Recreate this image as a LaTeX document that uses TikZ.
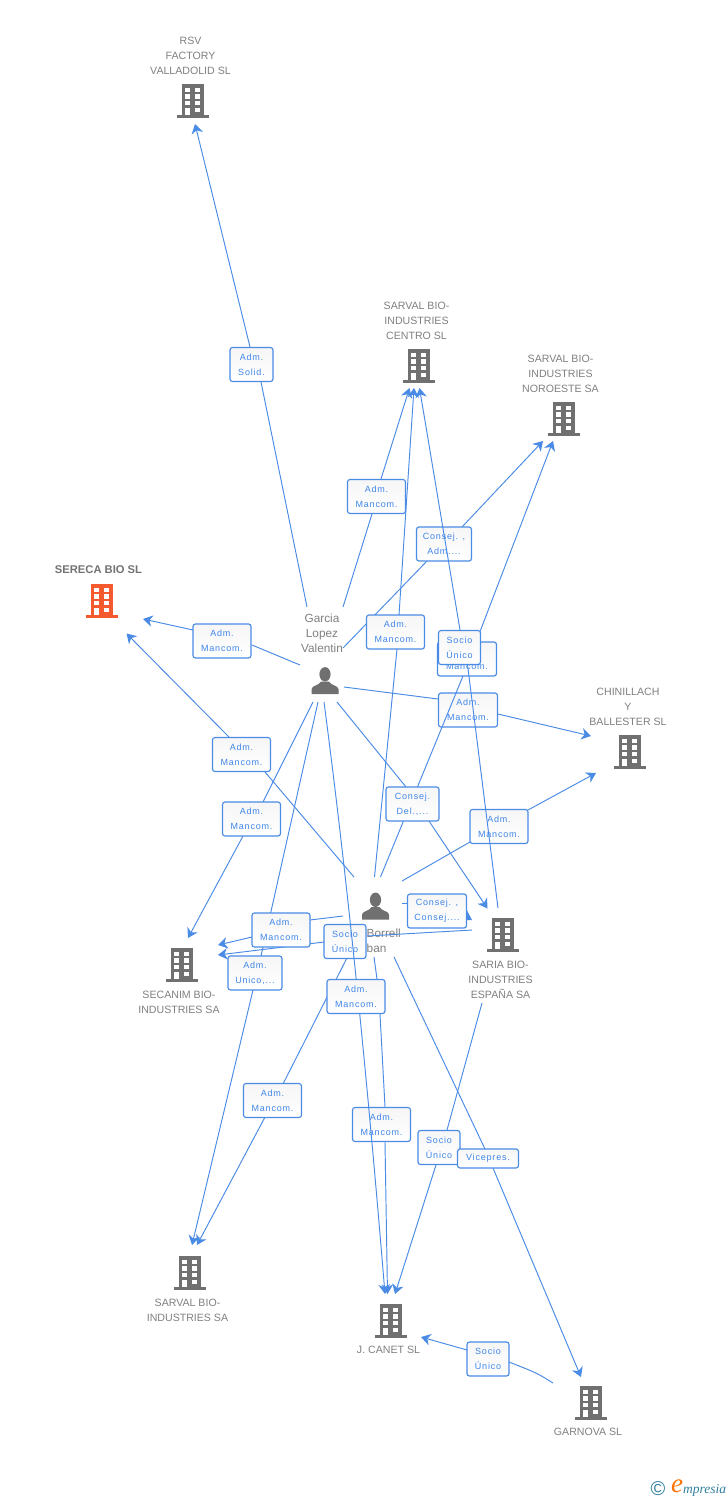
\documentclass[tikz,border=0pt]{standalone}
\usepackage{fontspec}
\setmainfont{Liberation Sans}
\newfontfamily\lblfont[LetterSpace=9]{Liberation Sans}
\newfontfamily\logofont{Liberation Serif}
\usetikzlibrary{arrows.meta}
\definecolor{cblue}{HTML}{4A8BE6}
\definecolor{ctext}{HTML}{3F86E8}
\definecolor{cgray}{HTML}{707070}
\definecolor{ctxt}{HTML}{808080}
\definecolor{corange}{HTML}{F5592E}
\definecolor{cteal}{HTML}{2F7F9F}
\tikzset{
  cline/.style={draw=cblue,line width=0.95pt},
  carrow/.style={draw=cblue,line width=0.95pt,-{Stealth[length=9.5pt,width=11.5pt,inset=3pt]}},
  lbl/.style={draw=cblue,line width=1.15pt,rounded corners=2.5pt,top color=gray!7,bottom color=white,text=ctext,
    font=\lblfont\fontsize{9}{15}\selectfont,align=center,inner sep=0pt,minimum height=34pt,minimum width=#1},
  lbl/.default=58pt,
  co/.style={text=ctxt,font=\fontsize{10.6}{15}\selectfont,align=center,inner sep=0pt},
  pe/.style={text=ctxt,font=\fontsize{11.8}{15}\selectfont,align=center,inner sep=0pt},
  ico/.style={inner sep=0pt,minimum width=32pt,minimum height=34pt},
  pics/bldg/.style={code={
    \fill[#1] (-11,-17) rectangle (11,14.5);
    \fill[#1] (-16,14) rectangle (16,17);
    \foreach \yy in {-13.2,-6.6,0}{
      \fill[white] (-7.6,\yy) rectangle (-2.8,\yy+4.4);
      \fill[white] (2.4,\yy) rectangle (7.2,\yy+4.4);}
    \fill[white] (-7.6,6.6) rectangle (-2.8,14);
    \fill[white] (2.4,6.6) rectangle (7.2,11);
  }},
  pics/persona/.style={code={
    \fill[cgray] (0,-6.2) ellipse (5.6 and 7.2);
    \fill[cgray] (-13.5,13.5) -- (-13.5,8.5) .. controls (-13,5) and (-6,5) .. (-4,1) -- (4,1) .. controls (6,5) and (13,5) .. (13.5,8.5) -- (13.5,13.5) -- cycle;
  }}
}
\newcommand{\conn}[5]{%
  \draw[cline] (#1) -- ([shift={(#4)}]#2.center);
  \draw[carrow] ([shift={(#5)}]#2.center) -- (#3);}
\begin{document}
\begin{tikzpicture}[x=1pt,y=-1pt]
\fill[white] (0,0) rectangle (728,1500);
\useasboundingbox (0,0) rectangle (728,1500);

% buildings
\node[ico] (rsv) at (193,101) {}; \pic at (rsv) {bldg=cgray};
\node[ico] (centro) at (419,366) {}; \pic at (centro) {bldg=cgray};
\node[ico] (noroeste) at (564,419) {}; \pic at (noroeste) {bldg=cgray};
\node[ico] (sereca) at (102,601) {}; \pic at (sereca) {bldg=corange};
\node[ico] (chini) at (630,752) {}; \pic at (chini) {bldg=cgray};
\node[ico] (saria) at (503,935) {}; \pic at (saria) {bldg=cgray};
\node[ico] (secanim) at (182,965) {}; \pic at (secanim) {bldg=cgray};
\node[ico] (sarvalsa) at (190,1273) {}; \pic at (sarvalsa) {bldg=cgray};
\node[ico] (canet) at (391,1321) {}; \pic at (canet) {bldg=cgray};
\node[ico] (garnova) at (591,1403) {}; \pic at (garnova) {bldg=cgray};
\node[ico] (garcia) at (325,680.5) {}; \pic at (garcia) {persona};
\node[ico] (borrell) at (375.5,906) {}; \pic at (borrell) {persona};

% names
\node[co] (trsv) at (190.5,55.5) {RSV\\FACTORY\\VALLADOLID SL};
\node[co] (tcentro) at (416.5,320.5) {SARVAL BIO-\\INDUSTRIES\\CENTRO  SL};
\node[co] (tnor) at (560.5,373.5) {SARVAL BIO-\\INDUSTRIES\\NOROESTE SA};
\node[co,text=ctxt!90!black,font=\bfseries\fontsize{11.2}{15}\selectfont] (tser) at (98.5,570) {SERECA BIO SL};
\node[co] (tchi) at (628,706.5) {CHINILLACH\\Y\\BALLESTER SL};
\node[co] (tsar) at (500.5,979.5) {SARIA BIO-\\INDUSTRIES\\ESPAÑA SA};
\node[co] (tsec) at (179,1002) {SECANIM BIO-\\INDUSTRIES SA};
\node[co] (tsva) at (187.5,1310) {SARVAL BIO-\\INDUSTRIES SA};
\node[co] (tcan) at (388.5,1350) {J.  CANET SL};
\node[co] (tgar) at (588,1432) {GARNOVA SL};
\node[pe] (tgarcia) at (322,633) {Garcia\\Lopez\\Valentin};
\node[pe,anchor=west] (tbor1) at (366.5,933.5) {Borrell};
\node[pe,anchor=west] (tbor2) at (366.5,948.5) {ban};

% free ends
\coordinate (a1) at (307,607);   \coordinate (b1) at (195,124);
\coordinate (a2) at (343,607);   \coordinate (b2) at (409.5,388);
\coordinate (a3) at (343,648);   \coordinate (b3) at (543,441);
\coordinate (a4) at (374.5,877); \coordinate (b4) at (414,388);
\coordinate (a5) at (498,908);   \coordinate (b5) at (419.5,388);
\coordinate (a6) at (380.5,877); \coordinate (b6) at (553,441);
\coordinate (a7) at (344,687);   \coordinate (b7) at (591,736);
\coordinate (a8) at (402,881);   \coordinate (b8) at (596,773);
\coordinate (a9) at (402,903);   \coordinate (b9) at (472,920);
\coordinate (a10) at (300,665);  \coordinate (b10) at (143,619);
\coordinate (a11) at (354,877);  \coordinate (b11) at (126.5,633.5);
\coordinate (a12) at (313,702);  \coordinate (b12) at (188,938);
\coordinate (a13) at (343,916);  \coordinate (b13) at (218,945);
\coordinate (a14) at (472,930);  \coordinate (b14) at (218,955);
\coordinate (a15) at (318,702);  \coordinate (b15) at (192,1245);
\coordinate (a16) at (351,950);  \coordinate (b16) at (197,1245);
\coordinate (a17) at (374,957);  \coordinate (b17) at (387.5,1294);
\coordinate (a18) at (482,1003); \coordinate (b18) at (395,1294);
\coordinate (a19) at (394,957);  \coordinate (b19) at (581,1377);
\coordinate (a20) at (553,1383); \coordinate (b20) at (421,1337);
\coordinate (a21) at (324,702);  \coordinate (b21) at (385,1294);
\coordinate (a22) at (337,702);  \coordinate (b22) at (487.5,908.5);

% label positions (nodes placed after their connectors)
\path
 (251.5,364.5) coordinate (lA)
 (376.5,496.5) coordinate (lB)
 (444,544) coordinate (lC)
 (395.5,632) coordinate (lD)
 (459.5,647.5) coordinate (lE)
 (467,659) coordinate (lF)
 (468,710) coordinate (lG)
 (222,641) coordinate (lH)
 (241.5,754.5) coordinate (lI)
 (251.5,819) coordinate (lJ)
 (412.5,804) coordinate (lK)
 (499,826.5) coordinate (lL)
 (437,911) coordinate (lM)
 (281,930) coordinate (lN)
 (345,941.5) coordinate (lO)
 (255,973) coordinate (lP)
 (356,996.5) coordinate (lQ)
 (272.5,1100.5) coordinate (lR)
 (381.5,1124.5) coordinate (lS)
 (439,1147.5) coordinate (lT)
 (488,1158.5) coordinate (lU)
 (488,1359) coordinate (lV);

% connectors under the labels
\conn{a1}{lA}{b1}{9.5,17.5}{-1.5,-17.5}
\conn{a2}{lB}{b2}{-4.5,17.5}{4.5,-17.5}
\conn{a3}{lC}{b3}{-17,17}{18,-17}
\conn{a4}{lD}{b4}{1.5,17}{3.5,-17}
\conn{a7}{lG}{b7}{-30,-11}{30,4}
\conn{a8}{lL}{b8}{-29,15.5}{29,-16.5}
\conn{a9}{lM}{b9}{-30,-8}{30,6}
\conn{a10}{lH}{b10}{30,4}{-29,-11}
\conn{a11}{lI}{b11}{23.5,17.5}{-12.5,-17.5}
\conn{a12}{lJ}{b12}{11.5,-17}{-8.5,17}
\conn{a13}{lN}{b13}{29,-10}{-29,7}
\conn{a14}{lO}{b14}{22,-5.5}{-21,0.5}
\conn{a15}{lP}{b15}{6,-17}{-2,17}
\conn{a16}{lR}{b16}{11,-17.5}{-8,17.5}
\draw[cline] (a17) -- ([shift={(21,-17.5)}]lQ);
\draw[cline] ([shift={(24,17.5)}]lQ) -- ([shift={(3.5,-17.5)}]lS);
\draw[carrow] ([shift={(3.5,17.5)}]lS) -- (b17);
\conn{a18}{lT}{b18}{8,-17.5}{-3,17.5}
\conn{a19}{lU}{b19}{-3,-9.5}{5,9.5}
\draw[cline] (a20) .. controls (537,1373) .. ([shift={(21,3)}]lV);
\draw[carrow] ([shift={(-21,-9)}]lV) -- (b20);

% labels below the crossing lines
\node[lbl=43pt] (nA) at (lA) {Adm.\\Solid.};
\node[lbl=58pt] (nB) at (lB) {Adm.\\Mancom.};
\node[lbl=55pt] (nC) at (lC) {Consej. ,\\Adm....};
\node[lbl=58pt] (nD) at (lD) {Adm.\\Mancom.};
\node[lbl=59pt] (nF) at (lF) {Adm.\\Mancom.};
\node[lbl=59pt] (nG) at (lG) {Adm.\\Mancom.};
\node[lbl=58pt] (nH) at (lH) {Adm.\\Mancom.};
\node[lbl=58pt] (nI) at (lI) {Adm.\\Mancom.};
\node[lbl=58pt] (nJ) at (lJ) {Adm.\\Mancom.};
\node[lbl=58pt] (nL) at (lL) {Adm.\\Mancom.};
\node[lbl=59pt] (nM) at (lM) {Consej. ,\\Consej....};
\node[lbl=58pt] (nN) at (lN) {Adm.\\Mancom.};
\node[lbl=42pt] (nO) at (lO) {Socio\\Único};
\node[lbl=54pt] (nP) at (lP) {Adm.\\Unico,...};
\node[lbl=58pt] (nR) at (lR) {Adm.\\Mancom.};
\node[lbl=58pt] (nS) at (lS) {Adm.\\Mancom.};
\node[lbl=42pt] (nT) at (lT) {Socio\\Único};
\node[lbl=61pt,minimum height=19pt] (nU) at (lU) {Vicepres.};
\node[lbl=42pt] (nV) at (lV) {Socio\\Único};

% connectors over those labels
\conn{a5}{lE}{b5}{8,17}{0.5,-17.5}
\conn{a6}{lF}{b6}{-4,17}{9,-17}
\draw[carrow] (a21) .. controls (350,900) and (369,1100) .. (b21);
\conn{a22}{lK}{b22}{-6.5,-17}{16.5,17}

% top labels
\node[lbl=42pt] (nE) at (lE) {Socio\\Único};
\node[lbl=53pt] (nK) at (lK) {Consej.\\Del.,...};
\node[lbl=58pt] (nQ) at (lQ) {Adm.\\Mancom.};

% logo
\node[text=cteal,inner sep=0pt,font=\fontsize{20}{20}\selectfont] (lc) at (658,1489) {©};
\node[text=orange!90!red,inner sep=0pt,font=\logofont\itshape\fontsize{27}{27}\selectfont] (le) at (677,1486) {e};
\node[text=cteal,inner sep=0pt,anchor=west,font=\logofont\itshape\fontsize{13.5}{13.5}\selectfont] (lm) at (683,1490) {mpresia};
\end{tikzpicture}
\end{document}
